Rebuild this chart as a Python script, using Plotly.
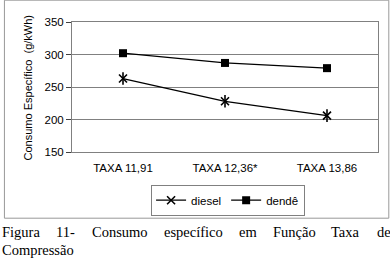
import plotly.graph_objects as go

categories = ["TAXA 11,91", "TAXA 12,36*", "TAXA 13,86"]
diesel = [263, 228, 206]
dende = [302, 287, 279]
y_ticks = [150, 200, 250, 300, 350]
y_title = "Consumo Específico  (g/kWh)"
caption_line1 = ["Figura", "11-", "Consumo", "específico", "em", "Função", "Taxa", "de"]
caption_line2 = "Compressão"

W, H = 390, 259
L, R, T, B = 72, 377.7, 22.3, 152.3
pw, ph = R - L, B - T

def px(x):
    return (x - L) / pw

def py(y):
    return (B - y) / ph

fig = go.Figure()
fig.add_trace(go.Scatter(
    x=categories, y=diesel, name="diesel", mode="lines+markers",
    line=dict(color="black", width=1.3), legendgroup="d",
    marker=dict(symbol="x-thin-open", size=8, color="black", line=dict(width=1.6, color="black")),
))
fig.add_trace(go.Scatter(
    x=categories, y=diesel, name="diesel", mode="markers", showlegend=False,
    legendgroup="d", hoverinfo="skip",
    marker=dict(symbol="line-ns-open", size=9, color="black", line=dict(width=1.6, color="black")),
))
fig.add_trace(go.Scatter(
    x=categories, y=dende, name="dendê", mode="lines+markers",
    line=dict(color="black", width=1.3),
    marker=dict(symbol="square", size=8, color="black"),
))

fig.update_layout(
    width=W, height=H,
    margin=dict(l=L, r=W - R, t=T, b=H - B, autoexpand=False),
    paper_bgcolor="white", plot_bgcolor="white",
    font=dict(family="Liberation Sans, Arial, sans-serif", size=11.5, color="black"),
    showlegend=True,
    legend=dict(
        orientation="h", x=px(151), y=py(185), xanchor="left", yanchor="top",
        bordercolor="#808080", borderwidth=1, font=dict(size=11.5),
        tracegroupgap=0, itemwidth=30,
    ),
)
fig.update_xaxes(
    type="category", showgrid=False, showline=True, linecolor="#808080", linewidth=1,
    mirror=True, ticks="", ticklabelstandoff=5, range=[-0.5, 2.5],
)
fig.update_yaxes(
    range=[150, 350], tickvals=y_ticks, showgrid=True, gridcolor="#808080", gridwidth=1,
    showline=True, linecolor="#808080", linewidth=1, mirror=True,
    ticks="outside", ticklen=5, tickcolor="#404040", zeroline=False,
)

annotations = [
    dict(text=y_title, xref="paper", yref="paper", x=px(28.5), y=py(87.3),
         xanchor="center", yanchor="middle", textangle=-90, showarrow=False,
         font=dict(size=11, family="Liberation Sans, Arial, sans-serif")),
]

serif = dict(family="Liberation Serif, Times New Roman, serif", size=14.5, color="black")
widths_em = {"Figura": 2.611, "11-": 1.333, "Consumo": 3.834, "específico": 4.054,
             "em": 1.222, "Função": 2.944, "Taxa": 1.999, "de": 0.944}
fs = 14.5
left_px, right_px = 0.5, 388
total = sum(widths_em[w] * fs for w in caption_line1)
gap = (right_px - left_px - total) / (len(caption_line1) - 1)
xpos = left_px
for w in caption_line1:
    annotations.append(dict(text=w, xref="paper", yref="paper", x=px(xpos), y=py(232.5),
                            xanchor="left", yanchor="middle", showarrow=False, font=serif))
    xpos += widths_em[w] * fs + gap
annotations.append(dict(text=caption_line2, xref="paper", yref="paper", x=px(left_px), y=py(250.5),
                        xanchor="left", yanchor="middle", showarrow=False, font=serif))
fig.update_layout(annotations=annotations)

fig.add_shape(type="rect", xref="paper", yref="paper",
              x0=px(4.5), x1=px(388.5), y0=py(218.5), y1=py(0.5),
              line=dict(color="#999999", width=1), fillcolor="rgba(0,0,0,0)", layer="below")

fig.write_html("out.html", config={"displayModeBar": False},
               post_script="document.body.style.margin='0';document.body.style.overflow='hidden';")
